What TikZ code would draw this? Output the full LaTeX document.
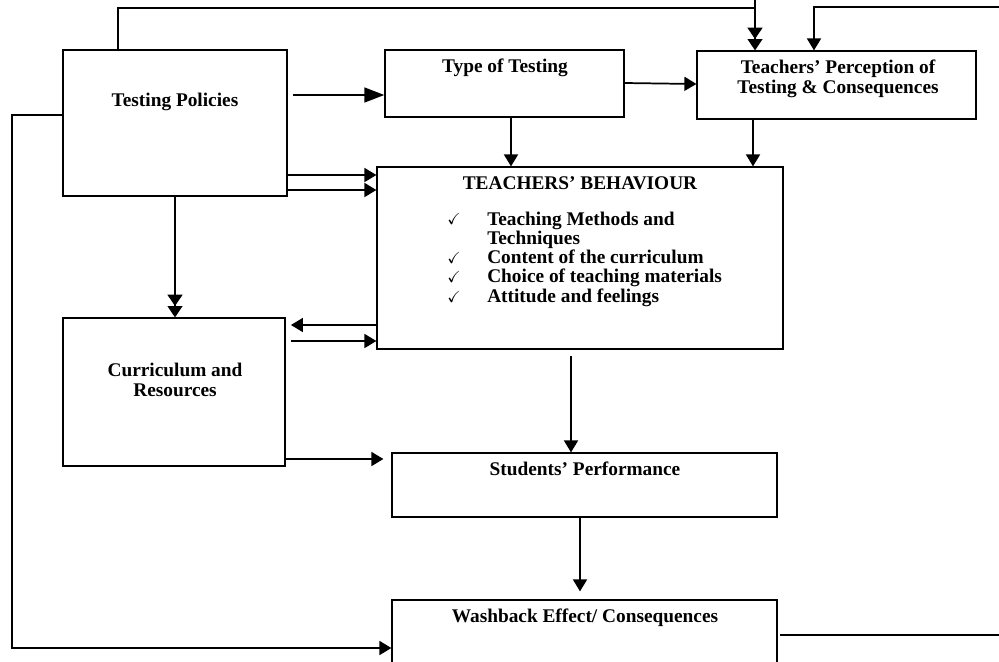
\documentclass[tikz,border=0pt]{standalone}
\usepackage{amssymb}
\usepackage{fontspec}
\setmainfont{Liberation Serif}
\usetikzlibrary{arrows.meta,fit}

\tikzset{
  box/.style={draw, line width=0.9pt, inner sep=0pt},
  lbl/.style={font=\bfseries\fontsize{14.5}{15}\selectfont, align=center, inner sep=0pt},
  ln/.style={line width=0.9pt},
  arr/.style={line width=1.3pt, -{Triangle[length=9pt,width=10.5pt]}},
  dbl/.style={line width=1.6pt, -{Triangle[length=8.5pt,width=11pt]Triangle[length=8.5pt,width=11pt]}}
}

\begin{document}
\begin{tikzpicture}[x=0.75pt,y=-0.75pt]
  \clip (0,0) rectangle (999,661);

  % boxes
  \node [box, fit={(63,50) (287,196)}] (pol) {};
  \node [box, fit={(385,50) (624,117)}] (type) {};
  \node [box, fit={(697,51) (976,119)}] (per) {};
  \node [box, fit={(377,167) (783,349)}] (beh) {};
  \node [box, fit={(63,318) (285,466)}] (cur) {};
  \node [box, fit={(392,453) (777,517)}] (stu) {};
  \node [box, fit={(392,600) (777,670)}] (wb) {};

  % texts
  \node [lbl, anchor=base] (polt) at (175,106) {Testing Policies};
  \node [lbl, anchor=base] (typet) at (505,72) {Type of Testing};
  \node [lbl] (pert) at (838,79) {Teachers’ Perception of\\Testing \& Consequences};
  \node [lbl, anchor=base] (beht) at (580,189) {TEACHERS’ BEHAVIOUR};
  \foreach \t/\y [count=\i] in {Teaching Methods and/225, Techniques/244,
      Content of the curriculum/263, Choice of teaching materials/282,
      Attitude and feelings/302}
    \node [lbl, anchor=base west] (item\i) at (487,\y) {\t};
  \foreach \y [count=\i] in {224,263,282,302}
    \node [anchor=base, inner sep=0pt, font=\fontsize{12}{12}\selectfont] (chk\i) at (454,\y) {$\checkmark$};
  \node [lbl] (curt) at (175,380) {Curriculum and\\Resources};
  \node [lbl, anchor=base] (stut) at (585,475) {Students’ Performance};
  \node [lbl, anchor=base] (wbt) at (585,622) {Washback Effect/ Consequences};

  % free ends
  \coordinate (topin) at (755,0);
  \coordinate (rightin) at (999,7);
  \coordinate (wbout) at (999,635);

  % connectors
  \draw [ln] (pol.north -| 118,0) -- (118,8) -- (755,8);
  \draw [dbl] (topin) -- (per.north -| 755,0);
  \draw [arr] (rightin) -| (per.north -| 814,0);
  \draw [line width=1.9pt, -{Triangle[length=15pt,width=11pt]}, shorten <=4pt]
    (pol.east |- 0,95) -- (type.west |- 0,95);
  \draw [arr] (type.east |- 0,83) -- (per.west |- 0,84);
  \draw [arr] (type.south -| 511,0) -- (beh.north -| 511,0);
  \draw [arr] (per.south -| 753,0) -- (beh.north -| 753,0);
  \foreach \y in {175,190}
    \draw [arr] (pol.east |- 0,\y) -- (beh.west |- 0,\y);
  \draw [dbl] (pol.south -| 175,0) -- (cur.north -| 175,0);
  \draw [arr, shorten >=4pt] (beh.west |- 0,325) -- (cur.east |- 0,325);
  \draw [arr, shorten <=4pt] (cur.east |- 0,341) -- (beh.west |- 0,341);
  \draw [arr, shorten >=6pt] (cur.east |- 0,459) -- (stu.west |- 0,459);
  \draw [arr, shorten <=5pt] (beh.south -| 571,0) -- (stu.north -| 571,0);
  \draw [arr, shorten >=6pt] (stu.south -| 580,0) -- (wb.north -| 580,0);
  \draw [arr] (pol.west |- 0,115) -- (12,115) -- (12,648) -- (wb.west |- 0,648);
  \draw [ln, shorten <=2pt] (wb.east |- 0,635) -- (wbout);
\end{tikzpicture}
\end{document}
